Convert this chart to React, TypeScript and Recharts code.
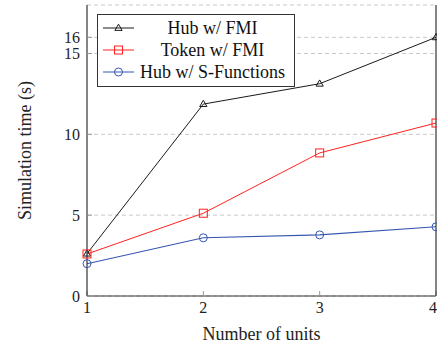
import React from 'react';
import { LineChart, Line, XAxis, YAxis, CartesianGrid, Legend, Label } from 'recharts';

const units = [1, 2, 3, 4];
const hubFmi = [2.62, 11.87, 13.13, 16.0];
const tokenFmi = [2.6, 5.12, 8.85, 10.7];
const hubSFunctions = [2.0, 3.6, 3.78, 4.28];
const yTicks = [0, 5, 10, 15, 16];
const seriesNames = ['Hub w/ FMI', 'Token w/ FMI', 'Hub w/ S-Functions'];

const BLACK = '#1a1a1a';
const RED = '#ff2222';
const BLUE = '#3556b0';
const FONT = "'Liberation Serif', 'Times New Roman', serif";

const data = units.map((u, i) => ({
  units: u,
  hubFmi: hubFmi[i],
  tokenFmi: tokenFmi[i],
  hubSFunctions: hubSFunctions[i],
}));

const TriangleDot = (props: any) => {
  const { cx, cy } = props;
  if (cx == null || cy == null) return null;
  return (
    <path
      key={`t-${cx}`}
      d={`M${cx},${cy - 3.8}L${cx + 3.6},${cy + 2.4}L${cx - 3.6},${cy + 2.4}Z`}
      fill="none"
      stroke={BLACK}
      strokeWidth={1}
    />
  );
};

const SquareDot = (props: any) => {
  const { cx, cy } = props;
  if (cx == null || cy == null) return null;
  return <rect key={`s-${cx}`} x={cx - 4} y={cy - 4} width={8} height={8} fill="none" stroke={RED} strokeWidth={1} />;
};

const CircleDot = (props: any) => {
  const { cx, cy } = props;
  if (cx == null || cy == null) return null;
  return <circle key={`c-${cx}`} cx={cx} cy={cy} r={4} fill="none" stroke={BLUE} strokeWidth={1} />;
};

const legendItems = [
  { name: seriesNames[0], color: BLACK, marker: 'tri' },
  { name: seriesNames[1], color: RED, marker: 'sq' },
  { name: seriesNames[2], color: BLUE, marker: 'circ' },
];

const renderLegend = () => (
  <div
    style={{
      border: '1px solid #333',
      background: '#fff',
      width: 196,
      paddingTop: 2,
      paddingBottom: 3,
      fontFamily: FONT,
      fontSize: 18,
      color: '#111',
      boxSizing: 'content-box',
    }}
  >
    {legendItems.map((it) => (
      <div key={it.name} style={{ display: 'flex', alignItems: 'center', height: 22 }}>
        <svg width={40} height={22} style={{ display: 'block' }}>
          <line x1={5} y1={11} x2={36} y2={11} stroke={it.color} strokeWidth={1} />
          {it.marker === 'tri' && <path d="M20.5,7.2L24.1,13.4L16.9,13.4Z" fill="none" stroke={it.color} />}
          {it.marker === 'sq' && <rect x={16.5} y={7} width={8} height={8} fill="none" stroke={it.color} />}
          {it.marker === 'circ' && <circle cx={20.5} cy={11} r={4} fill="none" stroke={it.color} />}
        </svg>
        <span style={{ flex: 1, textAlign: 'center', paddingRight: 7, whiteSpace: 'nowrap', lineHeight: '22px' }}>
          {it.name}
        </span>
      </div>
    ))}
  </div>
);

const tickStyle = { fontFamily: FONT, fontSize: 16, fill: '#222' };
const axisLineStyle = { stroke: '#333', strokeWidth: 1.2 };
const tickLineStyle = { stroke: '#999', strokeWidth: 1 };

export default function App() {
  return (
    <div
      style={{
        position: 'absolute',
        left: 0,
        top: 0,
        width: 437,
        height: 348,
        background: '#fff',
        fontFamily: FONT,
      }}
    >
      <LineChart
        width={437}
        height={348}
        data={data}
        margin={{ top: 5, right: 0, bottom: 0, left: 0 }}
        style={{ fontFamily: FONT }}
      >
        <CartesianGrid horizontal vertical={false} stroke="#c8c8c8" strokeDasharray="4 3" />
        <XAxis
          dataKey="units"
          type="number"
          domain={[1, 4]}
          ticks={units}
          height={52}
          axisLine={axisLineStyle}
          tickLine={tickLineStyle}
          tickSize={-5}
          tickMargin={11}
          tick={tickStyle}
          allowDecimals={false}
        >
          <Label
            value="Number of units"
            position="insideBottom"
            offset={8}
            style={{ fontFamily: FONT, fontSize: 18, fill: '#222' }}
          />
        </XAxis>
        <XAxis
          xAxisId="top"
          orientation="top"
          dataKey="units"
          type="number"
          domain={[1, 4]}
          ticks={units}
          height={0}
          axisLine={axisLineStyle}
          tickLine={tickLineStyle}
          tickSize={-5}
          tickFormatter={() => ''}
        />
        <YAxis
          type="number"
          domain={[0, 18]}
          ticks={yTicks}
          width={87}
          axisLine={axisLineStyle}
          tickLine={tickLineStyle}
          tickSize={-5}
          tickMargin={12}
          tick={tickStyle}
          interval={0}
        >
          <Label
            value="Simulation time (s)"
            angle={-90}
            position="insideLeft"
            offset={25}
            style={{ fontFamily: FONT, fontSize: 18, fill: '#222', textAnchor: 'middle' }}
          />
        </YAxis>
        <YAxis
          yAxisId="right"
          orientation="right"
          type="number"
          domain={[0, 18]}
          ticks={yTicks}
          width={1}
          axisLine={axisLineStyle}
          tickLine={tickLineStyle}
          tickSize={-5}
          tickFormatter={() => ''}
          interval={0}
        />
        <Legend
          layout="vertical"
          align="center"
          verticalAlign="middle"
          content={renderLegend}
          wrapperStyle={{ left: 97, top: 14, width: 198 }}
        />
        <Line
          name={seriesNames[0]}
          dataKey="hubFmi"
          stroke={BLACK}
          strokeWidth={1}
          dot={<TriangleDot />}
          isAnimationActive={false}
        />
        <Line
          name={seriesNames[1]}
          dataKey="tokenFmi"
          stroke={RED}
          strokeWidth={1}
          dot={<SquareDot />}
          isAnimationActive={false}
        />
        <Line
          name={seriesNames[2]}
          dataKey="hubSFunctions"
          stroke={BLUE}
          strokeWidth={1.1}
          dot={<CircleDot />}
          isAnimationActive={false}
        />
      </LineChart>
    </div>
  );
}
